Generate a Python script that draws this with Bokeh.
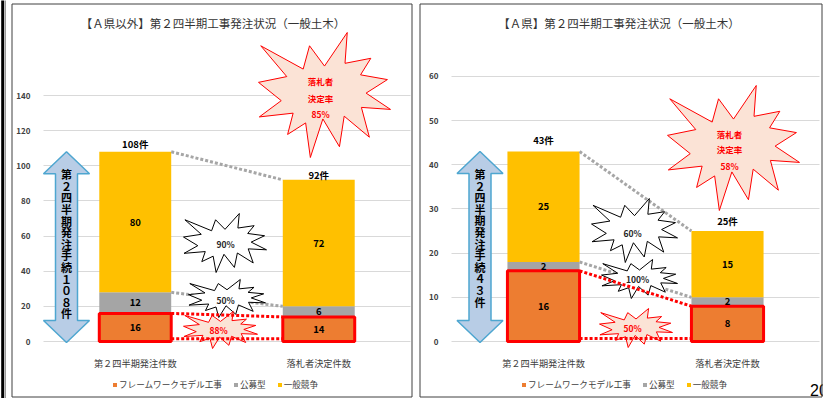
from bokeh.plotting import figure
from bokeh.models import Range1d, FixedTicker, BoxAnnotation, Label, Grid
from bokeh.layouts import row
from bokeh.embed import file_html
from bokeh.resources import INLINE
from bokeh.core.properties import value

# ---------------- data ----------------
CATEGORIES = ["第２四半期発注件数", "落札者決定件数"]
SERIES = ["フレームワークモデル工事", "公募型", "一般競争"]
COLORS = ["#ed7d31", "#a5a5a5", "#ffc000"]

# 【Ａ県以外】
OTHER_FRAMEWORK = [16, 14]
OTHER_KOUBO = [12, 6]
OTHER_IPPAN = [80, 72]
OTHER_TICKS = [0, 20, 40, 60, 80, 100, 120, 140]
TITLE_OTHER = "【Ａ県以外】第２四半期工事発注状況（一般土木）"

# 【Ａ県】
A_FRAMEWORK = [16, 8]
A_KOUBO = [2, 2]
A_IPPAN = [25, 15]
A_TICKS = [0, 10, 20, 30, 40, 50, 60]
TITLE_A = "【Ａ県】第２四半期工事発注状況（一般土木）"

PAGE_NO = "20"

# ---------------- styling / layout ----------------
FONT = "Noto Sans CJK JP"
FW_DIGITS = str.maketrans("0123456789", "０１２３４５６７８９")
BAR_W = 0.392
ZERO_PY = 341.0
AXIS_PY = 346
H = 398

# "Explosion 1" outline (normalised 0..21600)
SEAL = [(10800, 5800), (14522, 0), (14155, 5325), (18380, 4457), (16702, 7315),
        (21097, 8137), (17607, 10475), (21600, 13290), (16837, 12942), (18145, 18095),
        (14020, 14457), (13247, 19737), (10532, 14935), (8485, 21600), (7715, 15627),
        (4762, 17617), (5667, 13937), (135, 14587), (3722, 11775), (0, 8615),
        (4627, 7617), (370, 2295), (7312, 6320), (8352, 2295)]


def pct(a, b):
    return f"{round(100 * a / b)}%"


def build_panel(cfg, fw, kb, ip, ticks, title):
    x0, width, fl, fr, ppu = cfg["x0"], cfg["width"], cfg["fl"], cfg["fr"], cfg["ppu"]

    def X(gx):
        return (gx - x0 - fl) / (fr - fl) * 2.0

    def Y(py):
        return (ZERO_PY - py) / ppu

    def PY(v):
        return ZERO_PY - v * ppu

    p = figure(width=width, height=H,
               x_range=Range1d(X(x0), X(x0 + width)),
               y_range=Range1d(Y(H), Y(0)),
               output_backend="svg", toolbar_location=None,
               min_border=0, min_border_left=0, min_border_right=0,
               min_border_top=0, min_border_bottom=0,
               outline_line_color=None,
               background_fill_color="white", border_fill_color="white")

    xpos = [i + 0.5 for i in range(len(CATEGORIES))]

    # axes / grid
    p.yaxis.ticker = FixedTicker(ticks=ticks)
    p.yaxis.fixed_location = X(x0 + fl)
    p.xaxis.ticker = FixedTicker(ticks=xpos)
    p.xaxis.major_label_overrides = {float(x): c for x, c in zip(xpos, CATEGORIES)}
    p.xaxis.fixed_location = Y(AXIS_PY)
    p.ygrid.ticker = FixedTicker(ticks=ticks)
    p.ygrid.grid_line_color = "#d9d9d9"
    if "cross_bounds" in Grid.properties():
        p.ygrid.cross_bounds = (X(x0 + fl), X(x0 + fr))
    p.xgrid.grid_line_color = None
    for ax in (p.xaxis, p.yaxis):
        ax.axis_line_color = None
        ax.major_tick_line_color = None
        ax.minor_tick_line_color = None
        ax.major_label_text_font = FONT
        ax.major_label_text_color = "#404040"
    p.yaxis.major_label_standoff = 7
    p.yaxis.major_label_text_font_size = "8px"
    p.yaxis.major_label_text_font_style = "bold"
    p.xaxis.major_label_standoff = 3
    p.xaxis.major_label_text_font_size = "9.2px"

    # stacked bars
    src = dict(x=xpos, fw=fw, kb=kb, ip=ip)
    p.vbar_stack(["fw", "kb", "ip"], x="x", width=BAR_W, source=src,
                 fill_color=COLORS, line_color=None, legend_label=SERIES)
    # red frame around framework segment
    p.vbar(x=xpos, bottom=0, top=fw, width=BAR_W, fill_color=None,
           line_color="#ff0000", line_width=3)

    totals = [a + b + c for a, b, c in zip(fw, kb, ip)]
    xa = xpos[0] + BAR_W / 2
    xb = xpos[1] - BAR_W / 2

    # gray connectors
    p.line([xa, xb], [totals[0], totals[1]], line_color="#a6a6a6", line_width=3, line_dash="3 2")
    p.line([xa, xb], [fw[0] + kb[0], fw[1] + kb[1]], line_color="#a6a6a6", line_width=3, line_dash="3 2")

    # arrow
    cx = cfg["arrow_cx"]
    pt = PY(totals[0])
    pb = ZERO_PY + 1
    hw, sw, hh = 23, 11, 22
    apx = [cx, cx + hw, cx + sw, cx + sw, cx + hw, cx, cx - hw, cx - sw, cx - sw, cx - hw]
    apy = [pt, pt + hh, pt + hh, pb - hh, pb - hh, pb, pb - hh, pb - hh, pt + hh, pt + hh]
    p.patch([X(v) for v in apx], [Y(v) for v in apy], fill_color="#b8cde6",
            line_color="#4ea6d0", line_width=1.5)
    chars = list("第２四半期発注手続" + str(totals[0]).translate(FW_DIGITS) + "件")
    p.text(x=[X(cx)] * len(chars), y=[Y(pt + 22.5 + i * 11.6) for i in range(len(chars))],
           text=chars, text_font=value(FONT), text_font_size="11px", text_font_style="bold",
           text_color="black", text_align="center", text_baseline="middle")

    # starbursts
    def seal(box, fill, line):
        bx0, by0, bx1, by1 = box
        xs = [X(bx0 + (bx1 - bx0) * sx / 21600) for sx, sy in SEAL]
        ys = [Y(by0 + (by1 - by0) * sy / 21600) for sx, sy in SEAL]
        p.patch(xs, ys, fill_color=fill, line_color=line, line_width=1)

    def star_text(xs, ys, texts, color):
        p.text(x=[X(v) for v in xs], y=[Y(v) for v in ys], text=texts,
               text_font=value(FONT), text_font_size="8.5px", text_font_style="bold",
               text_color=color, text_align="center", text_baseline="middle")

    box, tx, tys = cfg["star_big"]
    seal(box, "#fbe3d6", "#ff0000")
    star_text([tx] * 3, list(tys), ["落札者", "決定率", pct(totals[1], totals[0])], "#ff0000")

    box, (tx, ty) = cfg["star_ip"]
    seal(box, "white", "black")
    star_text([tx], [ty], [pct(ip[1], ip[0])], "#262626")

    box, (tx, ty) = cfg["star_kb"]
    seal(box, "white", "black")
    star_text([tx], [ty], [pct(kb[1], kb[0])], "#262626")

    box, (tx, ty) = cfg["star_fw"]
    seal(box, "#fbe3d6", "#ff0000")
    star_text([tx], [ty], [pct(fw[1], fw[0])], "#ff0000")

    # red connectors
    p.line([xa, xb], [fw[0], fw[1]], line_color="#ff0000", line_width=3, line_dash="3 2")
    base = Y(cfg["base_py"])
    p.line([xa, xb], [base, base], line_color="#ff0000", line_width=3, line_dash="3 2")

    # segment labels
    lx, ly, lt = [], [], []
    for i, xp in enumerate(xpos):
        cum = 0
        for v in (fw[i], kb[i], ip[i]):
            lx.append(xp)
            ly.append(cum + v / 2)
            lt.append(str(v))
            cum += v
    p.text(x=lx, y=ly, text=lt, text_font=value(FONT), text_font_size="9.5px",
           text_font_style="bold", text_color="black", text_align="center", text_baseline="middle")
    p.text(x=xpos, y=totals, text=[f"{t}件" for t in totals],
           y_offset=[-o for o in cfg["total_off"]], text_font=value(FONT), text_font_size="9.5px",
           text_font_style="bold", text_color="black", text_align="center", text_baseline="middle")

    # title
    p.add_layout(Label(x=X(cfg["title_c"][0]), y=Y(cfg["title_c"][1]), text=title,
                       text_font=FONT, text_font_size="11.5px", text_color="#333333",
                       text_align="center", text_baseline="middle"))

    # legend
    lg = p.legend[0]
    lg.orientation = "horizontal"
    lg.location = (cfg["legend_x"] - x0, H - 390)
    lg.glyph_width = 5
    lg.glyph_height = 5
    lg.label_standoff = 2
    lg.spacing = 11
    lg.padding = 0
    lg.margin = 0
    lg.label_height = 9
    lg.label_text_font = FONT
    lg.label_text_font_size = "8.6px"
    lg.label_text_color = "#404040"
    lg.border_line_color = None
    lg.background_fill_alpha = 0

    # decorations
    for extra in cfg.get("extras", []):
        extra(p, X, Y)
    bl, br = cfg["panel_box"]
    p.add_layout(BoxAnnotation(left=X(bl), right=X(br), top=Y(3.5), bottom=Y(396.5),
                               fill_alpha=0, line_color="#404040", line_alpha=1, line_width=1))
    return p


def left_bar(p, X, Y):
    p.add_layout(BoxAnnotation(left=X(0.7), right=X(3.7), top=Y(-5), bottom=Y(405),
                               fill_color="black", fill_alpha=1, line_alpha=0))
    p.add_layout(BoxAnnotation(left=X(4.3), right=X(5.3), top=Y(-5), bottom=Y(405),
                               fill_color="#808080", fill_alpha=1, line_alpha=0))


def page_no(p, X, Y):
    p.add_layout(Label(x=X(809.5), y=Y(389), text=PAGE_NO, text_font="Liberation Sans",
                       text_font_size="16px", text_color="black", text_align="left",
                       text_baseline="alphabetic"))
    p.add_layout(BoxAnnotation(left=X(822.2), right=X(830), top=Y(-5), bottom=Y(405),
                               fill_color="white", fill_alpha=1, line_alpha=0))


LEFT_CFG = dict(x0=0, width=414, fl=43, fr=410, ppu=1.757, arrow_cx=66,
                total_off=(8, 4.5), legend_x=112, title_c=(212.5, 22),
                star_big=((258, 32, 390, 157), 320, (80, 97, 113)),
                star_ip=((183, 213, 266, 272), (225, 243)),
                star_kb=((188, 279, 265, 317), (225, 299)),
                star_fw=((183, 311, 257, 348), (218, 329)),
                base_py=338.3, panel_box=(11.5, 411.5), extras=[left_bar])

RIGHT_CFG = dict(x0=414, width=413, fl=37, fr=405, ppu=4.417, arrow_cx=479.5,
                 total_off=(12, 10.5), legend_x=521, title_c=(618.5, 22),
                 star_big=((667, 85, 799, 210), 729, (133, 148.5, 165)),
                 star_ip=((591, 198, 677, 262), (632, 232)),
                 star_kb=((601, 259, 677, 298), (637, 278)),
                 star_fw=((599, 308, 672, 347), (632, 327)),
                 base_py=338, panel_box=(419.5, 821.5), extras=[page_no])

p1 = build_panel(LEFT_CFG, OTHER_FRAMEWORK, OTHER_KOUBO, OTHER_IPPAN, OTHER_TICKS, TITLE_OTHER)
p2 = build_panel(RIGHT_CFG, A_FRAMEWORK, A_KOUBO, A_IPPAN, A_TICKS, TITLE_A)

layout = row(p1, p2)
open("out.html", "w").write(file_html(layout, INLINE))
